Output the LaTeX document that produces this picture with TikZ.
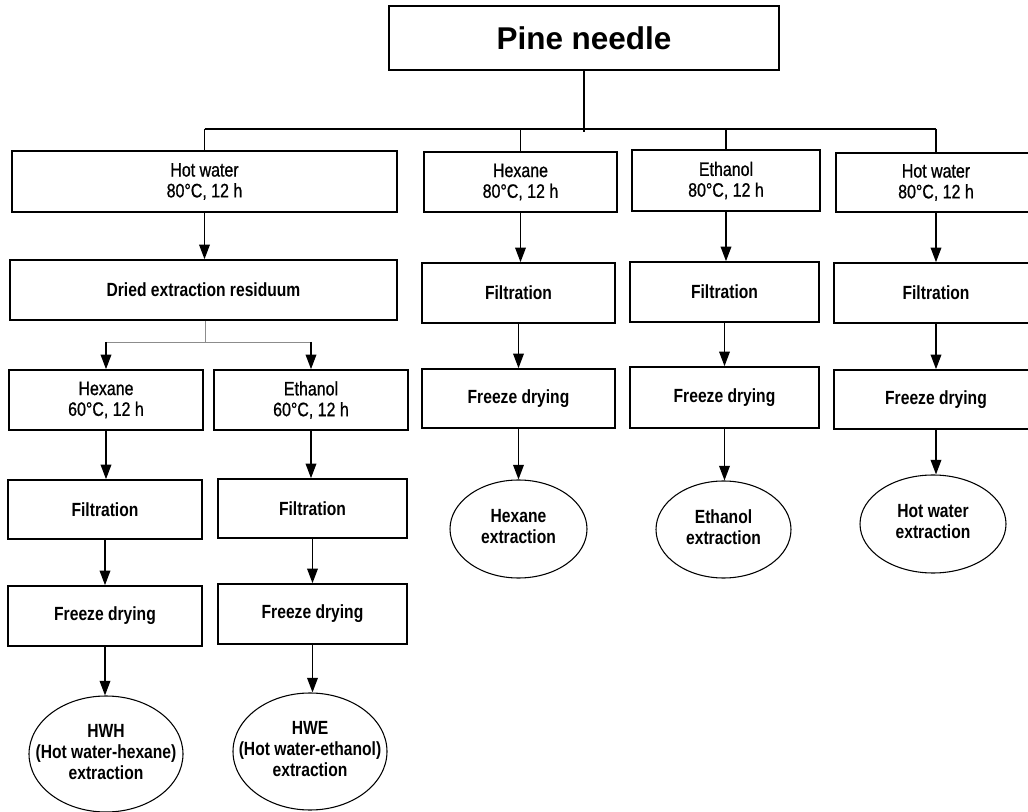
\documentclass[tikz,border=0pt]{standalone}
\usepackage{fontspec}
\setmainfont{Liberation Sans}[FakeStretch=0.82, UprightFeatures={FakeBold=0.8}]
\newfontfamily\pinefont{Liberation Sans}
\usetikzlibrary{shapes.geometric,arrows.meta}
\newcommand{\ovaltext}[1]{\makebox[0pt][c]{\begin{tabular}{@{}c@{}}#1\end{tabular}}}
\tikzset{
  sz/.style 2 args={minimum width=#1*0.75pt, minimum height=#2*0.75pt},
  box/.style={draw, line width=1.2pt, inner sep=0pt, align=center,
    font=\fontsize{14.6}{15.6}\selectfont},
  boldbox/.style={box, font=\fontsize{14.3}{15.5}\selectfont\bfseries},
  oval/.style={draw, ellipse, line width=0.8pt, inner sep=0pt,
    font=\fontsize{14.3}{15.8}\selectfont\bfseries},
  arr/.style={line width=1.1pt, -{Triangle[length=11pt,width=8pt]}},
  link/.style={line width=1.1pt},
  graylink/.style={line width=0.6pt, black!45},
}
\begin{document}
\begin{tikzpicture}[x=0.75pt,y=-0.75pt]
\useasboundingbox (0,0) rectangle (1028,812);
\clip (0,0) rectangle (1028,812);
% top
\node[box, sz={390}{64}, font=\pinefont\bfseries\fontsize{23.6}{25}\selectfont] (pine) at (584,38) {Pine needle};
\coordinate (bus) at (584,129);
% first row
\node[box, sz={385}{61}] (hw1) at (204.5,181.5) {Hot water\\80°C, 12 h};
\node[box, sz={193}{60}] (hex1) at (520.5,182) {Hexane\\80°C, 12 h};
\node[box, sz={188}{61}] (eth1) at (726,180.5) {Ethanol\\80°C, 12 h};
\node[box, sz={200}{59}] (hw2) at (936,182.5) {Hot water\\80°C, 12 h};
% left branch
\node[boldbox, sz={387}{60}] (dried) at (203.5,290) {Dried extraction residuum};
\coordinate (split) at (205,342);
\node[box, sz={194}{60}] (hex60) at (106,400) {Hexane\\60°C, 12 h};
\node[box, sz={194}{60}] (eth60) at (311,400) {Ethanol\\60°C, 12 h};
\node[boldbox, sz={194}{59}] (filtL) at (105,509.5) {Filtration};
\node[boldbox, sz={189}{59}] (filtR) at (312.5,508.5) {Filtration};
\node[boldbox, sz={194}{60}] (frzL) at (105,616) {Freeze drying};
\node[boldbox, sz={189}{60}] (frzR) at (312.5,614) {Freeze drying};
\node[oval, sz={154}{116}] (hwh) at (106,754) {\ovaltext{HWH\\(Hot water-hexane)\\extraction}};
\node[oval, sz={154}{117}] (hwe) at (310,751.5) {\ovaltext{HWE\\(Hot water-ethanol)\\extraction}};
% hexane column
\node[boldbox, sz={193}{60}] (filt1) at (518.5,293) {Filtration};
\node[boldbox, sz={193}{59}] (frz1) at (518.5,398.5) {Freeze drying};
\node[oval, sz={137}{98}] (ex1) at (518.5,529) {\ovaltext{Hexane\\extraction}};
% ethanol column
\node[boldbox, sz={189}{60}] (filt2) at (724.5,292) {Filtration};
\node[boldbox, sz={189}{61}] (frz2) at (724.5,397.5) {Freeze drying};
\node[oval, sz={135}{97}] (ex2) at (723.5,529.5) {\ovaltext{Ethanol\\extraction}};
% hot water column
\node[boldbox, sz={204}{60}] (filt3) at (936,293) {Filtration};
\node[boldbox, sz={204}{59}] (frz3) at (936,399.5) {Freeze drying};
\node[oval, sz={146}{98}] (ex3) at (933,524) {\ovaltext{Hot water\\extraction}};
% connectors from top
\draw[link] (pine.south) -- ([yshift=-3*0.75pt]pine.south |- bus);
\draw[link] (hw1.north |- bus) -- (hw2.north |- bus);
\draw[link] (hw1.north |- bus) -- (hw1.north);
\draw[link] (hex1.north |- bus) -- (hex1.north);
\draw[link] (eth1.north |- bus) -- (eth1.north);
\draw[link] (hw2.north |- bus) -- (hw2.north);
% left branch connectors
\draw[arr] (hw1.south) -- (hw1.south |- dried.north);
\draw[graylink] (dried.south -| split) -- (split);
\draw[graylink] (hex60.north |- split) -- (eth60.north |- split);
\draw[arr] (hex60.north |- split) -- (hex60.north);
\draw[arr] (eth60.north |- split) -- (eth60.north);
\draw[arr] (hex60.south) -- (hex60.south |- filtL.north);
\draw[arr] (filtL.south) -- (filtL.south |- frzL.north);
\draw[arr] (frzL.south) -- (frzL.south |- hwh.north);
\draw[arr] (eth60.south) -- (eth60.south |- filtR.north);
\draw[arr] (filtR.south) -- (filtR.south |- frzR.north);
\draw[arr] (frzR.south) -- (frzR.south |- hwe.north);
% other columns
\draw[arr] (hex1.south) -- (hex1.south |- filt1.north);
\draw[arr] (filt1.south) -- (filt1.south |- frz1.north);
\draw[arr] (frz1.south) -- (frz1.south |- ex1.north);
\draw[arr] (eth1.south) -- (eth1.south |- filt2.north);
\draw[arr] (filt2.south) -- (filt2.south |- frz2.north);
\draw[arr] (frz2.south) -- (frz2.south |- ex2.north);
\draw[arr] (hw2.south) -- (hw2.south |- filt3.north);
\draw[arr] (filt3.south) -- (filt3.south |- frz3.north);
\draw[arr] (frz3.south) -- (frz3.south |- ex3.north);
\end{tikzpicture}
\end{document}
